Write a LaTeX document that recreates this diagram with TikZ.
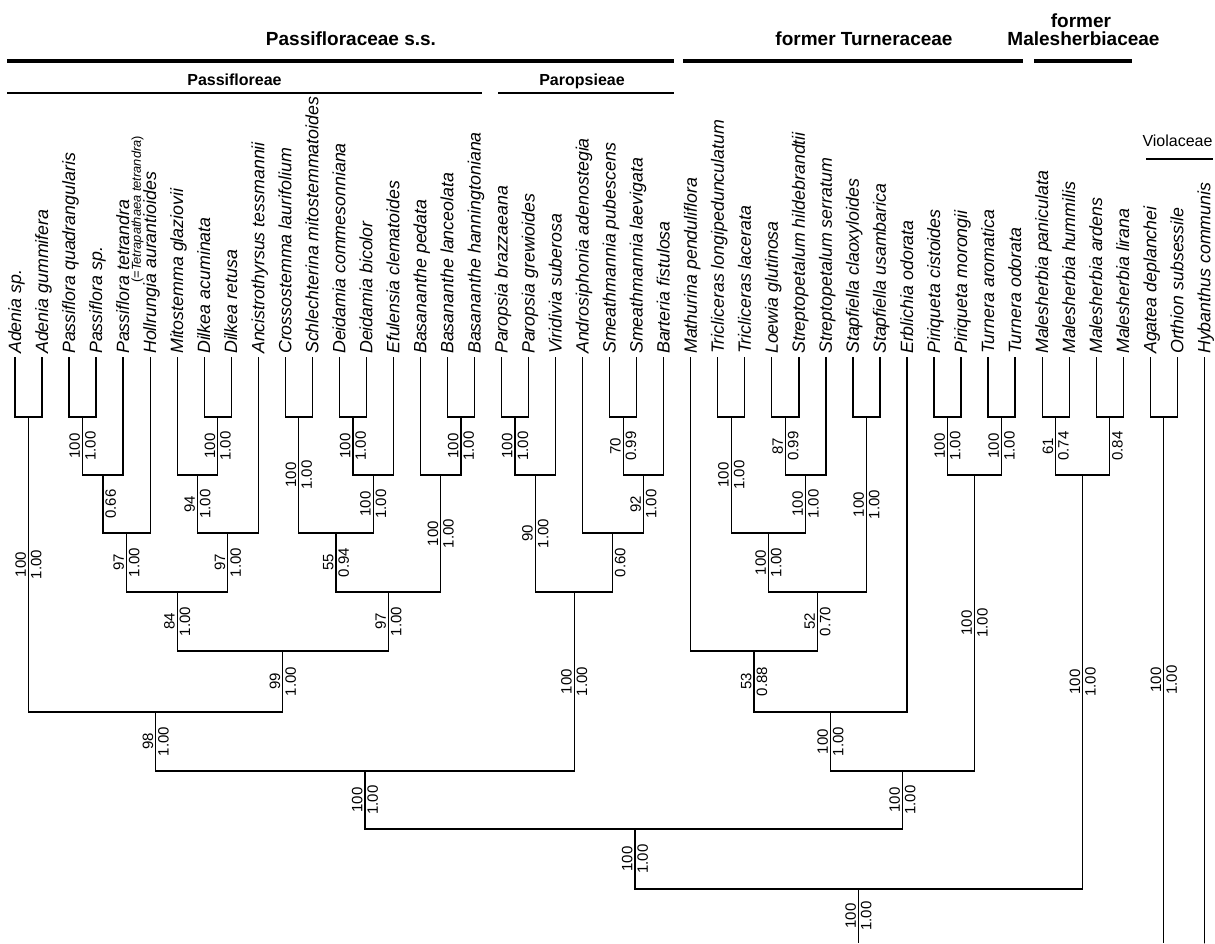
\documentclass[tikz,border=0pt]{standalone}
\usepackage{fontspec}
\setmainfont{Liberation Sans}
\usetikzlibrary{calc}
\begin{document}
\begin{tikzpicture}[x=1pt,y=-1pt,
  branch/.style={line width=1.25pt, line join=miter},
  taxon/.style={rotate=90, anchor=base west, inner sep=0pt, font=\fontsize{17.8}{20}\selectfont\itshape},
  smalltaxon/.style={rotate=90, anchor=base west, inner sep=0pt, font=\fontsize{12.9}{14}\selectfont\itshape},
  supL/.style={rotate=90, anchor=south, inner sep=2.3pt, font=\fontsize{15}{17}\selectfont},
  supR/.style={rotate=90, anchor=north, inner sep=2.3pt, font=\fontsize{15}{17}\selectfont},
  hdr/.style={anchor=base, inner sep=0pt, font=\fontsize{19}{22}\selectfont\bfseries},
  subhdr/.style={anchor=base, inner sep=0pt, font=\fontsize{16}{19}\selectfont\bfseries},
  famhdr/.style={anchor=base, inner sep=0pt, font=\fontsize{16}{19}\selectfont},
  thickrule/.style={line width=3.3pt},
  thinrule/.style={line width=1.7pt},
  famrule/.style={line width=1.2pt}
]
\useasboundingbox (0,0) rectangle (1215,943);

\newcommand\br[4]{%
  \draw[branch] (#1) -- (#1 |- #2) -- (#2);
  \path (#1) -- (#1 |- #2) coordinate[midway] (#1-m);
  \node[supL] (#1-l) at (#1-m) {#3};
  \node[supR] (#1-r) at (#1-m) {#4};
}
\newcommand\tip[2]{\draw[branch] (#1) -- (#1 |- #2) -- (#2);}

% tips and taxon labels
\foreach \i/\nm in {0/Adenia sp., 1/Adenia gummifera, 2/Passiflora quadrangularis, 3/Passiflora sp., 4/Passiflora tetrandra, 5/Hollrungia aurantioides, 6/Mitostemma glaziovii, 7/Dilkea acuminata, 8/Dilkea retusa, 9/Ancistrothyrsus tessmannii, 10/Crossostemma laurifolium, 11/Schlechterina mitostemmatoides, 12/Deidamia commesonniana, 13/Deidamia bicolor, 14/Efulensia clematoides, 15/Basananthe pedata, 16/Basananthe lanceolata, 17/Basananthe hanningtoniana, 18/Paropsia brazzaeana, 19/Paropsia grewioides, 20/Viridivia suberosa, 21/Androsiphonia adenostegia, 22/Smeathmannia pubescens, 23/Smeathmannia laevigata, 24/Barteria fistulosa, 25/Mathurina penduliflora, 26/Tricliceras longipedunculatum, 27/Tricliceras lacerata, 28/Loewia glutinosa, 29/Streptopetalum hildebrandtii, 30/Streptopetalum serratum, 31/Stapfiella claoxyloides, 32/Stapfiella usambarica, 33/Erblichia odorata, 34/Piriqueta cistoides, 35/Piriqueta morongii, 36/Turnera aromatica, 37/Turnera odorata, 38/Malesherbia paniculata, 39/Malesherbia hummilis, 40/Malesherbia ardens, 41/Malesherbia lirana, 42/Agatea deplanchei, 43/Orthion subsessile, 44/Hybanthus communis}{
  \pgfmathsetmacro\xx{15+27.03*\i}
  \coordinate (t\i) at (\xx,357);
  \node[taxon] (lab\i) at ([xshift=6pt,yshift=3pt]t\i) {\nm};
}
\node[smalltaxon] (labsyn) at (140.8,283) {{\upshape(=}Tetrapathaea tetrandra{\upshape)}};

% internal nodes
\coordinate (aden) at (28.5,417);
\coordinate (pq) at (82.6,417);
\coordinate (pqt) at (102.9,475);
\coordinate (pass) at (126.5,533);
\coordinate (dil) at (217.7,417);
\coordinate (mdil) at (197.4,475);
\coordinate (mda) at (227.8,533);
\coordinate (pm) at (177.2,592);
\coordinate (cs) at (298.8,417);
\coordinate (dd) at (352.9,417);
\coordinate (dde) at (373.2,475);
\coordinate (csd) at (336,533);
\coordinate (basa) at (461,417);
\coordinate (bas) at (440.7,475);
\coordinate (csdb) at (388.4,592);
\coordinate (pmc) at (282.8,651);
\coordinate (passif) at (155.7,712);
\coordinate (par) at (515.1,417);
\coordinate (parv) at (535.3,475);
\coordinate (sm) at (623.2,417);
\coordinate (smb) at (643.5,475);
\coordinate (asmb) at (612.5,533);
\coordinate (paro) at (574.2,592);
\coordinate (pss) at (365,771);
\coordinate (tri) at (731.3,417);
\coordinate (ls) at (785.4,417);
\coordinate (lss) at (805.6,475);
\coordinate (tl) at (768.5,533);
\coordinate (st) at (866.4,417);
\coordinate (tls) at (817.5,592);
\coordinate (mtls) at (754.1,651);
\coordinate (mtlse) at (830.5,712);
\coordinate (pi) at (947.5,417);
\coordinate (tu) at (1001.6,417);
\coordinate (pt) at (974.6,475);
\coordinate (turn) at (902.5,771);
\coordinate (ptt) at (635,829);
\coordinate (ma) at (1055.7,417);
\coordinate (mb) at (1109.7,417);
\coordinate (mal) at (1082.7,475);
\coordinate (ing) at (858.5,889);
\coordinate (vio) at (1163.8,417);
\coordinate (ingB) at (858.5,943);
\coordinate (vioB) at (1163.8,943);
\coordinate (hybB) at (1204.32,943);

% tips to first nodes
\tip{t0}{aden}\tip{t1}{aden}
\tip{t2}{pq}\tip{t3}{pq}\tip{t4}{pqt}\tip{t5}{pass}
\tip{t6}{mdil}\tip{t7}{dil}\tip{t8}{dil}\tip{t9}{mda}
\tip{t10}{cs}\tip{t11}{cs}\tip{t12}{dd}\tip{t13}{dd}\tip{t14}{dde}
\tip{t15}{bas}\tip{t16}{basa}\tip{t17}{basa}
\tip{t18}{par}\tip{t19}{par}\tip{t20}{parv}
\tip{t21}{asmb}\tip{t22}{sm}\tip{t23}{sm}\tip{t24}{smb}
\tip{t25}{mtls}\tip{t26}{tri}\tip{t27}{tri}
\tip{t28}{ls}\tip{t29}{ls}\tip{t30}{lss}
\tip{t31}{st}\tip{t32}{st}\tip{t33}{mtlse}
\tip{t34}{pi}\tip{t35}{pi}\tip{t36}{tu}\tip{t37}{tu}
\tip{t38}{ma}\tip{t39}{ma}\tip{t40}{mb}\tip{t41}{mb}
\tip{t42}{vio}\tip{t43}{vio}\tip{t44}{hybB}

% internal branches with support
\br{aden}{passif}{100}{1.00}
\br{pq}{pqt}{100}{1.00}
\br{pqt}{pass}{}{0.66}
\br{pass}{pm}{97}{1.00}
\br{dil}{mdil}{100}{1.00}
\br{mdil}{mda}{94}{1.00}
\br{mda}{pm}{97}{1.00}
\br{pm}{pmc}{84}{1.00}
\br{cs}{csd}{100}{1.00}
\br{dd}{dde}{100}{1.00}
\br{dde}{csd}{100}{1.00}
\br{csd}{csdb}{55}{0.94}
\br{basa}{bas}{100}{1.00}
\br{bas}{csdb}{100}{1.00}
\br{csdb}{pmc}{97}{1.00}
\br{pmc}{passif}{99}{1.00}
\br{passif}{pss}{98}{1.00}
\br{par}{parv}{100}{1.00}
\br{parv}{paro}{90}{1.00}
\br{sm}{smb}{70}{0.99}
\br{smb}{asmb}{92}{1.00}
\br{asmb}{paro}{}{0.60}
\br{paro}{pss}{100}{1.00}
\br{pss}{ptt}{100}{1.00}
\br{tri}{tl}{100}{1.00}
\br{ls}{lss}{87}{0.99}
\br{lss}{tl}{100}{1.00}
\br{tl}{tls}{100}{1.00}
\br{st}{tls}{100}{1.00}
\br{tls}{mtls}{52}{0.70}
\br{mtls}{mtlse}{53}{0.88}
\br{mtlse}{turn}{100}{1.00}
\br{pi}{pt}{100}{1.00}
\br{tu}{pt}{100}{1.00}
\br{pt}{turn}{100}{1.00}
\br{turn}{ptt}{100}{1.00}
\br{ptt}{ing}{100}{1.00}
\br{ma}{mal}{61}{0.74}
\br{mb}{mal}{}{0.84}
\br{mal}{ing}{100}{1.00}
\br{ing}{ingB}{100}{1.00}
\br{vio}{vioB}{100}{1.00}

% group headers
\node[hdr] (hpss) at (351,45.7) {Passifloraceae s.s.};
\coordinate (rpssA) at (7,61); \coordinate (rpssB) at (674,61);
\draw[thickrule] (rpssA) -- (rpssB);
\node[subhdr] (hpas) at (234.5,85) {Passifloreae};
\coordinate (rpasA) at (7,93); \coordinate (rpasB) at (482,93);
\draw[thinrule] (rpasA) -- (rpasB);
\node[subhdr] (hpar) at (582,85) {Paropsieae};
\coordinate (rparA) at (498,93); \coordinate (rparB) at (674,93);
\draw[thinrule] (rparA) -- (rparB);
\node[hdr] (htur) at (864,45.7) {former Turneraceae};
\coordinate (rturA) at (683,61); \coordinate (rturB) at (1023,61);
\draw[thickrule] (rturA) -- (rturB);
\node[hdr] (hmal1) at (1081,27.7) {former};
\node[hdr] (hmal2) at (1083.5,45.7) {Malesherbiaceae};
\coordinate (rmalA) at (1034,61); \coordinate (rmalB) at (1132,61);
\draw[thickrule] (rmalA) -- (rmalB);
\node[famhdr] (hvio) at (1177.5,146.7) {Violaceae};
\coordinate (rvioA) at (1146,159); \coordinate (rvioB) at (1213,159);
\draw[famrule] (rvioA) -- (rvioB);
\end{tikzpicture}
\end{document}
